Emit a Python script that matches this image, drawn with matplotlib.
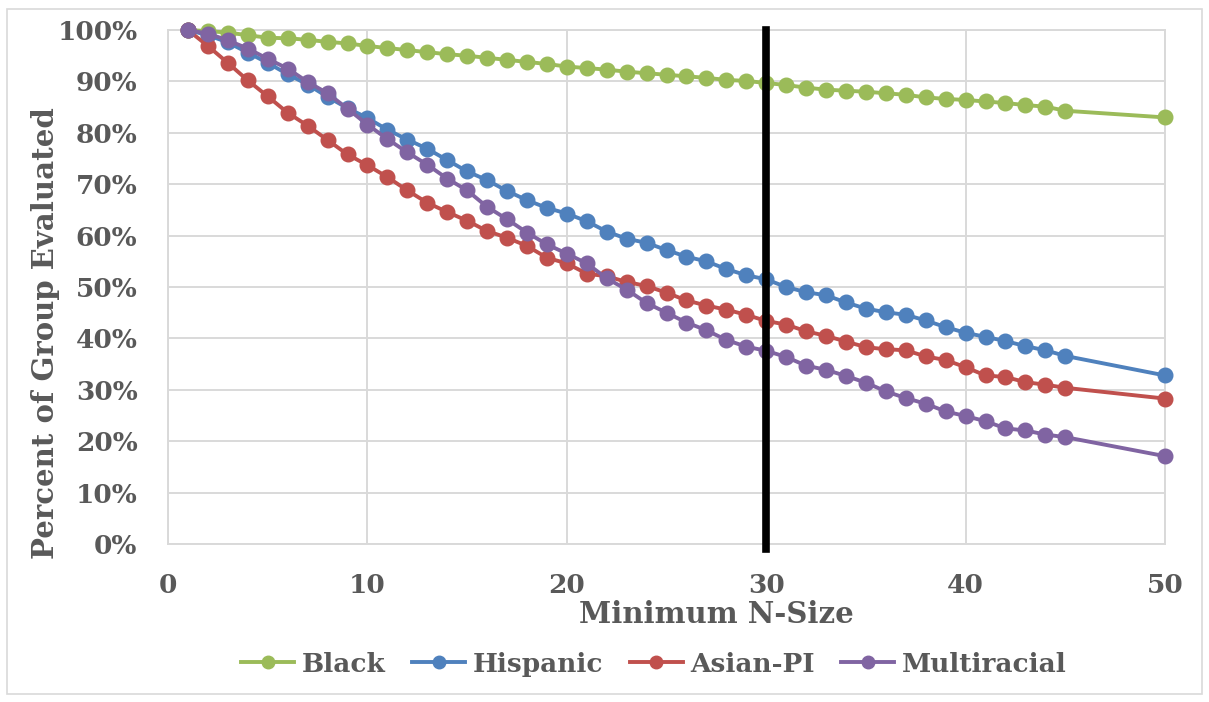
import matplotlib
matplotlib.use("Agg")
from matplotlib import pyplot as plt
from matplotlib.patches import Rectangle
from matplotlib.ticker import PercentFormatter, MultipleLocator

# minimum n-size values (1..45, then 50)
n_size = list(range(1, 46)) + [50]

black = [100, 99.8, 99.5, 99.0, 98.5, 98.4, 98.1, 97.7, 97.4, 96.9,
         96.5, 96.1, 95.7, 95.3, 95.0, 94.6, 94.2, 93.8, 93.4, 92.9,
         92.6, 92.3, 91.9, 91.6, 91.3, 91.0, 90.7, 90.3, 90.1, 89.7,
         89.3, 88.8, 88.4, 88.2, 88.0, 87.7, 87.4, 86.9, 86.6, 86.4,
         86.1, 85.8, 85.4, 85.1, 84.3, 83.0]
hispanic = [100, 99.0, 97.6, 95.6, 93.6, 91.4, 89.4, 87.0, 84.8, 82.9,
            80.6, 78.7, 76.9, 74.7, 72.5, 70.8, 68.7, 66.9, 65.4, 64.3,
            62.8, 60.8, 59.4, 58.6, 57.2, 55.9, 55.0, 53.5, 52.3, 51.5,
            50.0, 49.0, 48.4, 47.0, 45.8, 45.1, 44.6, 43.5, 42.2, 41.1,
            40.3, 39.5, 38.5, 37.7, 36.6, 32.8]
asian_pi = [100, 96.9, 93.6, 90.2, 87.1, 83.9, 81.4, 78.6, 75.8, 73.7,
            71.4, 68.8, 66.4, 64.6, 62.9, 60.9, 59.6, 58.0, 55.7, 54.6,
            52.6, 52.1, 51.0, 50.2, 48.9, 47.4, 46.4, 45.6, 44.6, 43.4,
            42.7, 41.4, 40.5, 39.4, 38.3, 37.9, 37.7, 36.5, 35.8, 34.4,
            32.8, 32.5, 31.5, 31.0, 30.4, 28.3]
multiracial = [100, 99.3, 98.0, 96.4, 94.4, 92.5, 89.9, 87.7, 84.7, 81.6,
               78.8, 76.2, 73.8, 71.1, 68.8, 65.6, 63.2, 60.6, 58.3, 56.5,
               54.6, 51.7, 49.5, 46.9, 45.0, 43.1, 41.6, 39.7, 38.4, 37.6,
               36.4, 34.7, 33.9, 32.7, 31.4, 29.7, 28.4, 27.3, 25.8, 24.9,
               23.9, 22.5, 22.1, 21.3, 20.8, 17.1]

series = [("Black", black, "#9BBB59"),
          ("Hispanic", hispanic, "#4F81BD"),
          ("Asian-PI", asian_pi, "#C0504D"),
          ("Multiracial", multiracial, "#8064A2")]
cutoff = 30

plt.rcParams['font.family'] = ['DejaVu Serif']
plt.rcParams['font.weight'] = 'bold'
txt = '#595959'

fig = plt.figure(figsize=(12.09, 7.02), dpi=100)
ax = fig.add_axes([0.139, 0.225, 0.8246, 0.7322])

for name, vals, col in series:
    ax.plot(n_size, vals, color=col, lw=2.8, marker='o', ms=10.5,
            label=name, clip_on=False, zorder=3)

ax.axvline(cutoff, color='black', lw=5.5, zorder=4, ymin=-0.01, ymax=1,
           clip_on=False)

ax.set_xlim(0, 50)
ax.set_ylim(0, 100)
ax.xaxis.set_major_locator(MultipleLocator(10))
ax.yaxis.set_major_locator(MultipleLocator(10))
ax.yaxis.set_major_formatter(PercentFormatter(decimals=0))
ax.grid(True, color='#d9d9d9', lw=1.4, zorder=0)
for s in ax.spines.values():
    s.set_color('#d9d9d9')
    s.set_linewidth(1.4)
ax.tick_params(length=0, labelsize=19, labelcolor=txt)
ax.tick_params(axis='x', pad=21)
ax.tick_params(axis='y', pad=22)
for lab in ax.get_xticklabels() + ax.get_yticklabels():
    lab.set_fontweight('bold')

ax.set_xlabel('Minimum N-Size', fontsize=21, color=txt, fontweight='bold')
ax.set_ylabel('Percent of Group Evaluated', fontsize=21, color=txt,
              fontweight='bold')
# Excel places the titles a bit off-centre
ax.xaxis.set_label_coords(0.55, -0.138)
ax.yaxis.set_label_coords(-0.123, 0.41)
ax.xaxis.label.set_va('center')
ax.yaxis.label.set_va('center')

leg = fig.legend(loc='center', bbox_to_anchor=(0.541, 0.054), ncol=4,
                 frameon=False, fontsize=19, handlelength=2.0,
                 columnspacing=1.0, handletextpad=0.3)
for t in leg.get_texts():
    t.set_color(txt)
    t.set_fontweight('bold')
for h in leg.legend_handles:
    h.set_markersize(9)

fig.patches.append(Rectangle((0.006, 0.011), 0.988, 0.976,
                             transform=fig.transFigure, fill=False,
                             ec='#d9d9d9', lw=1.2))

fig.savefig('out.png', dpi=100)
